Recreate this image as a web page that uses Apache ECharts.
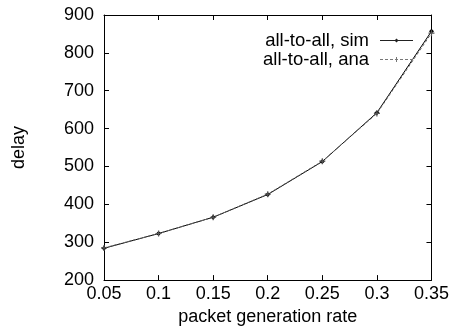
<!DOCTYPE html>
<html><head><meta charset="utf-8">
<script src="https://cdn.jsdelivr.net/npm/echarts@6/dist/echarts.min.js"></script>
<style>html,body{margin:0;padding:0;background:#fff}#c{width:452px;height:331px}</style>
</head><body><div id="c"></div>
<script>
const rates = [0.05, 0.1, 0.15, 0.2, 0.25, 0.3, 0.35];
const simDelay = [284, 323, 366, 426, 513, 642, 857];
const anaDelay = [285, 323, 366, 427, 514, 640, 852];
const xTicks = [0.05, 0.1, 0.15, 0.2, 0.25, 0.3, 0.35];
const yTicks = [200, 300, 400, 500, 600, 700, 800, 900];

const font = 'Liberation Sans, Arial, Helvetica, sans-serif';
const plus = 'path://M4,0H6V4H10V6H6V10H4V6H0V4H4Z';
const corners = 'M0,0H0.01V0.01H0Z M33,10H32.99V9.99H33Z ';
const simIcon = 'path://' + corners + 'M0,4.5H33V5.5H0Z M16.5,3L18.5,5L16.5,7L14.5,5Z';
const anaIcon = 'path://' + corners + 'M0,4.5H3V5.5H0Z M5,4.5H8V5.5H5Z M10,4.5H13V5.5H10Z M15,4.5H18V5.5H15Z M20,4.5H23V5.5H20Z M25,4.5H28V5.5H25Z M30,4.5H33V5.5H30Z M16,2.5H17V7.5H16Z';
const chart = echarts.init(document.getElementById('c'));
const axisLineStyle = {color:'#000', width:1};
chart.setOption({
  animation:false,
  backgroundColor:'#fff',
  grid:{left:104, right:20, top:15, bottom:48},
  legend:{
    right:34, top:26, orient:'vertical', align:'right', itemGap:0,
    itemWidth:33, itemHeight:10,
    textStyle:{fontFamily:font, fontSize:18.5, color:'#000', padding:[0,6,0,0]},
    data:[
      {name:'all-to-all, sim', icon:simIcon, itemStyle:{color:'#222'}},
      {name:'all-to-all, ana', icon:anaIcon, itemStyle:{color:'#777'}}
    ]
  },
  xAxis:[{
    type:'value', min:0.05, max:0.35, interval:0.05,
    name:'packet generation rate', nameLocation:'middle', nameGap:27,
    nameTextStyle:{fontFamily:font, fontSize:18, color:'#000'},
    axisLine:{lineStyle:axisLineStyle},
    axisTick:{inside:true, length:5, lineStyle:axisLineStyle},
    axisLabel:{fontFamily:font, fontSize:18, color:'#000', margin:5,
      formatter:v=>{const t=xTicks.find(k=>Math.abs(k-v)<1e-9);return t===undefined?'':String(t);}},
    splitLine:{show:false}
  },{
    type:'value', position:'top', min:0.05, max:0.35, interval:0.05,
    axisLine:{lineStyle:axisLineStyle},
    axisTick:{inside:true, length:5, lineStyle:axisLineStyle},
    axisLabel:{show:false}, splitLine:{show:false}
  }],
  yAxis:[{
    type:'value', min:200, max:900, interval:100,
    name:'delay', nameLocation:'middle', nameGap:76, nameRotate:90,
    nameTextStyle:{fontFamily:font, fontSize:18, color:'#000'},
    axisLine:{show:true, lineStyle:axisLineStyle},
    axisTick:{show:true, inside:true, length:5, lineStyle:axisLineStyle},
    axisLabel:{fontFamily:font, fontSize:18, color:'#000', margin:10,
      formatter:v=>yTicks.includes(v)?String(v):''},
    splitLine:{show:false}
  },{
    type:'value', position:'right', min:200, max:900, interval:100,
    axisLine:{show:true, lineStyle:axisLineStyle},
    axisTick:{show:true, inside:true, length:5, lineStyle:axisLineStyle},
    axisLabel:{show:false}, splitLine:{show:false}
  }],
  series:[{
    name:'all-to-all, sim', type:'line',
    data:rates.map((r,i)=>[r, simDelay[i]]),
    symbol:'diamond', symbolSize:5, showSymbol:true,
    lineStyle:{color:'#000', width:1},
    itemStyle:{color:'#000'}
  },{
    name:'all-to-all, ana', type:'line',
    data:rates.map((r,i)=>[r, anaDelay[i]]),
    symbol:plus, symbolSize:6,
    lineStyle:{color:'#666', width:1, type:[3,2]},
    itemStyle:{color:'#555'}
  }]
});
</script></body></html>
